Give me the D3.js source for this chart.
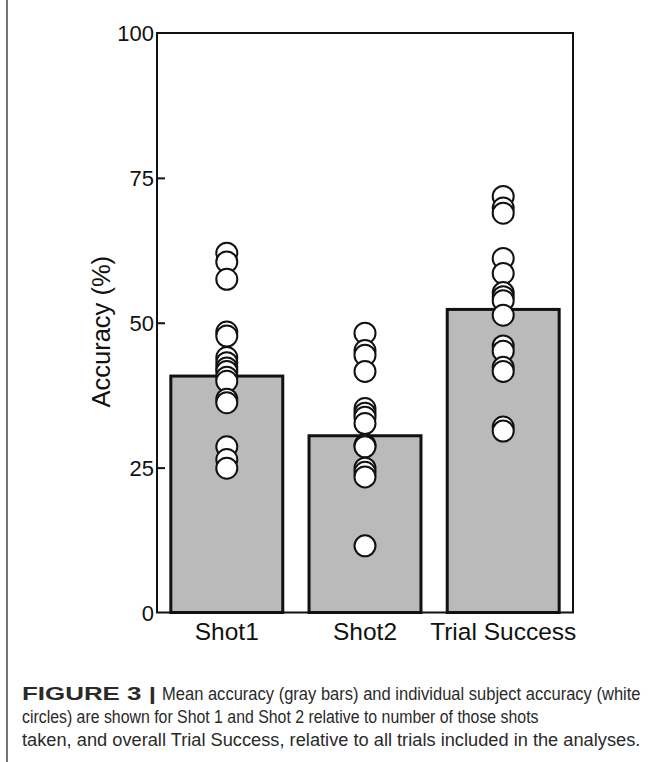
<!DOCTYPE html>
<html>
<head>
<meta charset="utf-8">
<script src="https://cdn.jsdelivr.net/npm/d3@7"></script>
<style>
  html, body { margin: 0; padding: 0; background: #fff; }
  svg { display: block; }
</style>
</head>
<body>
<svg id="chart" width="659" height="762"></svg>
<script>
// ---- data ----
const categories = ["Shot1", "Shot2", "Trial Success"];
const meanAccuracy = [40.8, 30.5, 52.3];
const shot1Subjects = [62.0, 60.5, 57.5, 48.4, 47.7, 44.0, 43.1, 42.2, 41.6, 40.6, 39.9, 36.8, 36.2, 28.6, 26.4, 24.9];
const shot2Subjects = [48.2, 45.2, 44.4, 41.6, 35.2, 34.4, 33.7, 32.6, 28.9, 28.6, 24.9, 24.2, 23.4, 11.5];
const trialSubjects = [71.8, 69.8, 68.9, 61.1, 58.5, 55.2, 54.5, 53.8, 51.3, 46.0, 45.1, 42.3, 41.6, 32.0, 31.3];
const yTicks = [0, 25, 50, 75, 100];
const yLabel = "Accuracy (%)";
const captionBold = "FIGURE 3 |";
const captionLines = [
  "Mean accuracy (gray bars) and individual subject accuracy (white",
  "circles) are shown for Shot 1 and Shot 2 relative to number of those shots",
  "taken, and overall Trial Success, relative to all trials included in the analyses."
];

const subjects = [shot1Subjects, shot2Subjects, trialSubjects];

// ---- drawing ----
const svg = d3.select("#chart");
const pL = 157, pR = 573, pT = 33, pB = 612.5;

const x = d3.scaleBand().domain(categories).range([pL, pR])
  .paddingInner(0.19).paddingOuter(0.1);
const y = d3.scaleLinear().domain([0, 100]).range([pB, pT]);

// page left rule
svg.append("line").attr("x1", 7).attr("x2", 7).attr("y1", 0).attr("y2", 762)
  .attr("stroke", "#444").attr("stroke-width", 1.5);

// bars
svg.append("g").selectAll("rect").data(categories).join("rect")
  .attr("x", d => x(d))
  .attr("y", (d, i) => y(meanAccuracy[i]))
  .attr("width", x.bandwidth())
  .attr("height", (d, i) => y(0) - y(meanAccuracy[i]))
  .attr("fill", "#bababa")
  .attr("stroke", "#111")
  .attr("stroke-width", 3);

// frame
svg.append("rect").attr("x", pL).attr("y", pT)
  .attr("width", pR - pL).attr("height", pB - pT)
  .attr("fill", "none").attr("stroke", "#111").attr("stroke-width", 2);

// left axis (inward ticks)
const yAxis = d3.axisLeft(y).tickValues(yTicks).tickSize(-8).tickPadding(13);
const ga = svg.append("g").attr("transform", `translate(${pL},0)`).call(yAxis);
ga.select(".domain").remove();
ga.selectAll(".tick line").attr("stroke", "#111").attr("stroke-width", 2)
  .attr("display", d => (d === 0 || d === 100) ? "none" : null);
ga.selectAll(".tick text").attr("font-family", "'Liberation Sans', Arial, sans-serif")
  .attr("font-size", 22).attr("fill", "#111").attr("x", -3)
  .attr("dy", "0.35em");

// axis title
svg.append("text")
  .attr("transform", `translate(110,${(pT + pB) / 2 + 9}) rotate(-90)`)
  .attr("text-anchor", "middle")
  .attr("font-family", "'Liberation Sans', Arial, sans-serif")
  .attr("font-size", 25.5).attr("fill", "#111")
  .text(yLabel);

// category labels
svg.append("g").selectAll("text").data(categories).join("text")
  .attr("x", d => x(d) + x.bandwidth() / 2)
  .attr("y", 640)
  .attr("text-anchor", "middle")
  .attr("font-family", "'Liberation Sans', Arial, sans-serif")
  .attr("font-size", 24.5).attr("fill", "#111")
  .text(d => d);

// subject circles
categories.forEach((c, i) => {
  svg.append("g").selectAll("circle").data(subjects[i]).join("circle")
    .attr("cx", x(c) + x.bandwidth() / 2)
    .attr("cy", d => y(d))
    .attr("r", 10.5)
    .attr("fill", "#fff")
    .attr("stroke", "#111")
    .attr("stroke-width", 2);
});

// caption (each line condensed horizontally to the width it takes in the reference)
const capFont = "'Liberation Sans', Arial, sans-serif";
function condensed(str, x0, x1, yb, bold, size) {
  const t = svg.append("text").attr("x", 0).attr("y", 0)
    .attr("font-family", capFont).attr("font-size", size)
    .attr("font-weight", bold ? "bold" : "normal")
    .attr("fill", "#2a2a2a").text(str);
  const w = t.node().getComputedTextLength();
  t.attr("transform", `translate(${x0},${yb}) scale(${(x1 - x0) / w},1)`);
}
condensed(captionBold, 22, 156, 700, true, 19);
const capEnds = [641, 539, 641];
const capStarts = [162, 22, 22];
const capBase = [700, 723, 746];
captionLines.forEach((t, i) => condensed(t, capStarts[i], capEnds[i], capBase[i], false, 18.5));
</script>
</body>
</html>
